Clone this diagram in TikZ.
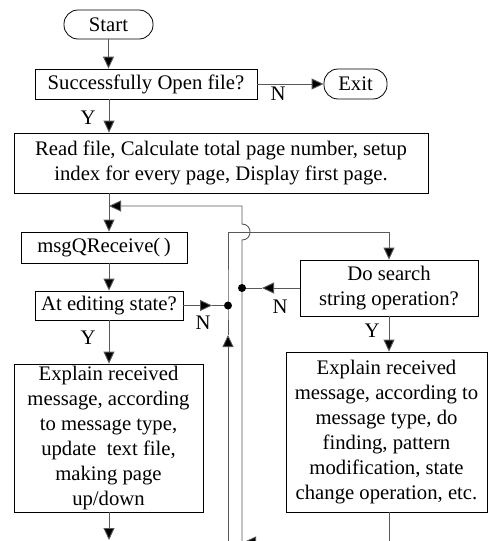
\documentclass[tikz,border=0pt]{standalone}
\usepackage{fontspec}
\setmainfont{Liberation Serif}
\usetikzlibrary{arrows.meta}

\begin{document}
\begin{tikzpicture}[x=1pt,y=-1pt,
  box/.style={draw=black, line width=0.8pt, rectangle, inner sep=0pt, align=center,
    font=\fontsize{20.7}{25}\selectfont},
  term/.style={box, rounded corners=14pt},
  conn/.style={draw=black!65, line width=0.9pt},
  arr/.style={conn, -{Triangle[length=12pt,width=11pt,fill=black]}},
  lbl/.style={font=\fontsize{20.7}{25}\selectfont, inner sep=0pt},
  junc/.style={circle, fill=black, inner sep=0pt, minimum size=8pt}]

\useasboundingbox (0,0) rectangle (489,541);
\clip (0,0) rectangle (489,541);

% process boxes
\node[term, minimum width=89pt, minimum height=29pt] (start) at (108.5,24.5) {Start};
\node[box, minimum width=222pt, minimum height=30pt] (open) at (146,84) {Successfully Open file?};
\node[term, minimum width=63pt, minimum height=30pt] (exit) at (355.5,84) {Exit};
\node[box, minimum width=414pt, minimum height=60pt] (read) at (221,163)
  {Read file, Calculate total page number, setup\\index for every page, Display first page.};
\node[box, minimum width=166pt, minimum height=31pt] (msgq) at (104,247.5) {msgQReceive(\,)};
\node[box, minimum width=148pt, minimum height=29pt] (edit) at (109,305.5) {At editing state?};
\node[box, minimum width=189pt, minimum height=148pt] (explA) at (108.5,438)
  {Explain received\\message, according\\to message type,\\update\ \ text file,\\making page\\up/down};
\node[box, minimum width=178pt, minimum height=56pt] (search) at (389,288)
  {Do search\\string operation?};
\node[box, minimum width=201pt, minimum height=160pt] (explB) at (386.5,432)
  {Explain received\\message, according to\\message type, do\\finding, pattern\\modification, state\\change operation, etc.};

% reference points of the routing
\coordinate (mx) at (109,0);
\coordinate (jA) at (228,305.5);
\coordinate (jB) at (242,288);
\coordinate (tipA) at (212,305.5);
\coordinate (tipB) at (262,288);
\coordinate (tipUp) at (228,335);
\coordinate (loopL) at (228,545);
\coordinate (loopR) at (242,545);
\coordinate (loopTop) at (242,206);
\coordinate (hopLo) at (242,240);
\coordinate (hopHi) at (242,224);
\coordinate (endA) at (109,540);
\coordinate (retB) at (389,542);
\coordinate (retTip) at (244,542);

% main column
\draw[arr] (start.south) -- (start.south |- open.north);
\draw[arr] (mx |- open.south) -- (mx |- read.north);
\draw[arr] (mx |- read.south) -- (mx |- msgq.north);
\draw[arr] (mx |- msgq.south) -- (mx |- edit.north);
\draw[arr] (mx |- edit.south) -- (mx |- explA.north);
\draw[arr] (mx |- explA.south) -- (endA);

% exit branch
\draw[arr] (open.east) -- (exit.west);

% editing state: N branch into the left loop line
\draw[arr] (edit.east) -- (tipA);
\draw[conn] (tipA) -- (jA);
\draw[arr] (loopL) -- (tipUp);
\draw[conn] (tipUp) -- (jA) -- (228,232) -- (search.north |- 0,232);
\draw[arr] (search.north |- 0,232) -- (search.north);

% search: N branch into the right loop line
\draw[arr] (search.west) -- (tipB);
\draw[conn] (tipB) -- (jB);
\draw[arr] (loopR) -- (hopLo) .. controls (252.7,240) and (252.7,224) .. (hopHi)
  -- (loopTop) -- (mx |- loopTop);

% search: Y branch
\draw[arr] (search.south) -- (search.south |- explB.north);
\draw[arr] (explB.south -| search.south) -- (retB) -- (retTip);

% junction dots
\node[junc] at (jA) {};
\node[junc] at (jB) {};

% branch labels
\node[lbl] at (278,94) {N};
\node[lbl] at (88,118) {Y};
\node[lbl] at (203,323) {N};
\node[lbl] at (88,338) {Y};
\node[lbl] at (280,307) {N};
\node[lbl] at (372,331) {Y};
\end{tikzpicture}
\end{document}
